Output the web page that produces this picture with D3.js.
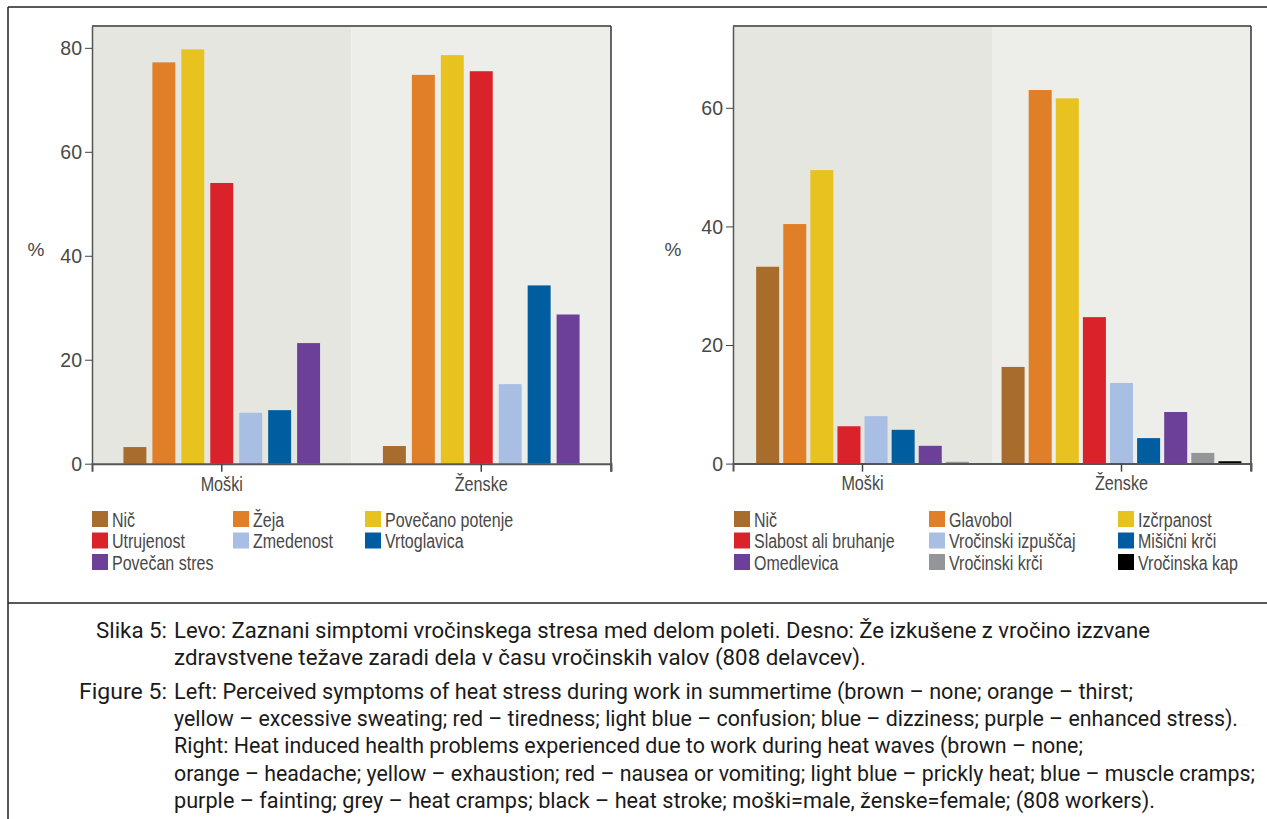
<!DOCTYPE html>
<html>
<head>
<meta charset="utf-8">
<script src="https://cdn.jsdelivr.net/npm/d3@7"></script>
<style>
  body { margin: 0; background: #fff; }
  svg { display: block; }
  .lab { font-family: "Liberation Sans", Arial, sans-serif; fill: #484848; }
  .cap { font-family: Roboto, "Liberation Sans", sans-serif; fill: #1a1a1a; font-size: 21.5px; }
</style>
</head>
<body>
<script>
// data (percent of workers)
const groups = ["Moški", "Ženske"];

const leftCategories = ["Nič", "Žeja", "Povečano potenje", "Utrujenost", "Zmedenost", "Vrtoglavica", "Povečan stres"];
const leftColors = ["#a86d2c", "#e07f27", "#e8c31f", "#da222a", "#a9bee3", "#005ea0", "#6c3f98"];
const leftMoski = [3.2, 77.2, 79.7, 54.0, 9.8, 10.3, 23.2];
const leftZenske = [3.4, 74.8, 78.6, 75.5, 15.3, 34.3, 28.7];
const leftTicks = [0, 20, 40, 60, 80];

const rightCategories = ["Nič", "Glavobol", "Izčrpanost", "Slabost ali bruhanje", "Vročinski izpuščaj", "Mišični krči", "Omedlevica", "Vročinski krči", "Vročinska kap"];
const rightColors = ["#a86d2c", "#e07f27", "#e8c31f", "#da222a", "#a9bee3", "#005ea0", "#6c3f98", "#939598", "#000000"];
const rightMoski = [33.2, 40.4, 49.5, 6.3, 8.0, 5.7, 3.0, 0.3, null];
const rightZenske = [16.3, 63.0, 61.6, 24.7, 13.6, 4.3, 8.7, 1.8, 0.4];
const rightTicks = [0, 20, 40, 60];

const captionLabels = ["Slika 5:", "", "Figure 5:", "", "", "", ""];
const captionLines = [
  "Levo: Zaznani simptomi vročinskega stresa med delom poleti. Desno: Že izkušene z vročino izzvane",
  "zdravstvene težave zaradi dela v času vročinskih valov (808 delavcev).",
  "Left: Perceived symptoms of heat stress during work in summertime (brown – none; orange – thirst;",
  "yellow – excessive sweating; red – tiredness; light blue – confusion; blue – dizziness; purple – enhanced stress).",
  "Right: Heat induced health problems experienced due to work during heat waves (brown – none;",
  "orange – headache; yellow – exhaustion; red – nausea or vomiting; light blue – prickly heat; blue – muscle cramps;",
  "purple – fainting; grey – heat cramps; black – heat stroke; moški=male, ženske=female; (808 workers)."
];

const width = 1267, height = 819;
const svg = d3.select("body").append("svg").attr("width", width).attr("height", height);

// frame
svg.append("line").attr("x1", 8).attr("x2", width).attr("y1", 7).attr("y2", 7).attr("stroke", "#222").attr("stroke-width", 1.5);
svg.append("line").attr("x1", 8).attr("x2", 8).attr("y1", 7).attr("y2", height).attr("stroke", "#222").attr("stroke-width", 1.5);
svg.append("line").attr("x1", 8).attr("x2", width).attr("y1", 603).attr("y2", 603).attr("stroke", "#222").attr("stroke-width", 1.5);

function drawChart(opt) {
  const g = svg.append("g");
  const data = [opt.moski, opt.zenske];

  const x0 = d3.scaleBand().domain(groups).range([opt.left, opt.right]);
  const y = d3.scaleLinear().domain([0, opt.ymax]).range([opt.bottom, opt.top]);
  const color = d3.scaleOrdinal().domain(opt.cats).range(opt.colors);

  // step taken from the full set of categories, subsets get centred in the group
  const full = d3.scaleBand().domain(opt.cats).range([0, x0.bandwidth()])
    .paddingInner(opt.pi).paddingOuter(opt.po);
  const step = full.step();

  g.selectAll(".panel").data(groups).enter().append("rect")
    .attr("x", d => x0(d)).attr("y", opt.top)
    .attr("width", x0.bandwidth()).attr("height", opt.bottom - opt.top)
    .attr("fill", (d, i) => i === 0 ? "#e6e6e1" : "#ededea");

  groups.forEach((grp, gi) => {
    const present = opt.cats.filter((c, i) => data[gi][i] != null);
    const c = x0(grp) + x0.bandwidth() / 2;
    const x1 = d3.scaleBand().domain(present)
      .range([c - present.length * step / 2, c + present.length * step / 2])
      .paddingInner(opt.pi).paddingOuter(opt.pi / 2);
    g.selectAll(".bar" + gi)
      .data(opt.cats.map((cat, i) => ({ cat, v: data[gi][i] })).filter(d => d.v != null))
      .enter().append("rect")
      .attr("x", d => x1(d.cat))
      .attr("y", d => y(d.v))
      .attr("width", x1.bandwidth())
      .attr("height", d => y(0) - y(d.v))
      .attr("fill", d => color(d.cat));
  });

  // frame of plot
  g.append("line").attr("x1", opt.left).attr("x2", opt.right).attr("y1", opt.top).attr("y2", opt.top)
    .attr("stroke", "#666").attr("stroke-width", 2);
  g.append("line").attr("x1", opt.right).attr("x2", opt.right).attr("y1", opt.top).attr("y2", opt.bottom + 8)
    .attr("stroke", "#333").attr("stroke-width", 1.5);

  const yAxis = g.append("g").attr("transform", `translate(${opt.left},0)`)
    .call(d3.axisLeft(y).tickValues(opt.ticks).tickSize(7).tickSizeOuter(0).tickPadding(3));
  yAxis.select(".domain").attr("stroke", "#555").attr("stroke-width", 1.5);
  yAxis.selectAll(".tick line").attr("stroke", "#444");
  yAxis.selectAll(".tick text").attr("class", "lab").attr("font-size", 19.5).attr("dy", "0.35em");

  const xAxis = g.append("g").attr("transform", `translate(0,${opt.bottom})`)
    .call(d3.axisBottom(x0).tickSize(8).tickSizeOuter(8).tickPadding(5));
  xAxis.select(".domain").attr("stroke", "#555").attr("stroke-width", 2);
  xAxis.selectAll(".tick line").attr("stroke", "#444").attr("stroke-width", 1.5);
  xAxis.selectAll(".tick text").attr("class", "lab").attr("font-size", 19.5)
    .attr("transform", "scale(0.83,1)");

  g.append("text").attr("class", "lab").attr("x", opt.pctX).attr("y", 256)
    .attr("text-anchor", "middle").attr("font-size", 19).text("%");

  // legend, three columns (text narrowed to match the condensed original face)
  const leg = g.selectAll(".leg").data(opt.cats).enter().append("g")
    .attr("transform", (d, i) => `translate(${opt.legX[i % 3]},${511 + Math.floor(i / 3) * 21.5})`);
  leg.append("rect").attr("width", 16).attr("height", 16).attr("fill", d => color(d));
  leg.append("text").attr("class", "lab").attr("transform", "translate(20,15.5) scale(0.8,1)")
    .attr("font-size", 20).text(d => d);
}

drawChart({
  cats: leftCategories, colors: leftColors, moski: leftMoski, zenske: leftZenske, ticks: leftTicks,
  left: 92, right: 611, top: 26, bottom: 463.7, ymax: 84.2, pi: 0.207, po: 1.086,
  pctX: 36, legX: [92, 233, 365]
});

drawChart({
  cats: rightCategories, colors: rightColors, moski: rightMoski, zenske: rightZenske, ticks: rightTicks,
  left: 733, right: 1251, top: 26, bottom: 463.6, ymax: 73.8, pi: 0.151, po: 0.354,
  pctX: 673, legX: [734, 929, 1118]
});

// caption; line widths as measured on the figure
const baselines = [638, 665, 699, 726, 753, 781, 808];
const labelWidths = [71, 0, 88, 0, 0, 0, 0];
const lineWidths = [976, 692, 959, 1064, 909, 1081, 981];
captionLines.forEach((ln, i) => {
  if (captionLabels[i]) svg.append("text").attr("class", "cap").attr("x", 167 - labelWidths[i]).attr("y", baselines[i])
    .attr("textLength", labelWidths[i]).attr("lengthAdjust", "spacingAndGlyphs").text(captionLabels[i]);
  svg.append("text").attr("class", "cap").attr("x", 174).attr("y", baselines[i])
    .attr("textLength", lineWidths[i]).attr("lengthAdjust", "spacingAndGlyphs").text(ln);
});
</script>
</body>
</html>
